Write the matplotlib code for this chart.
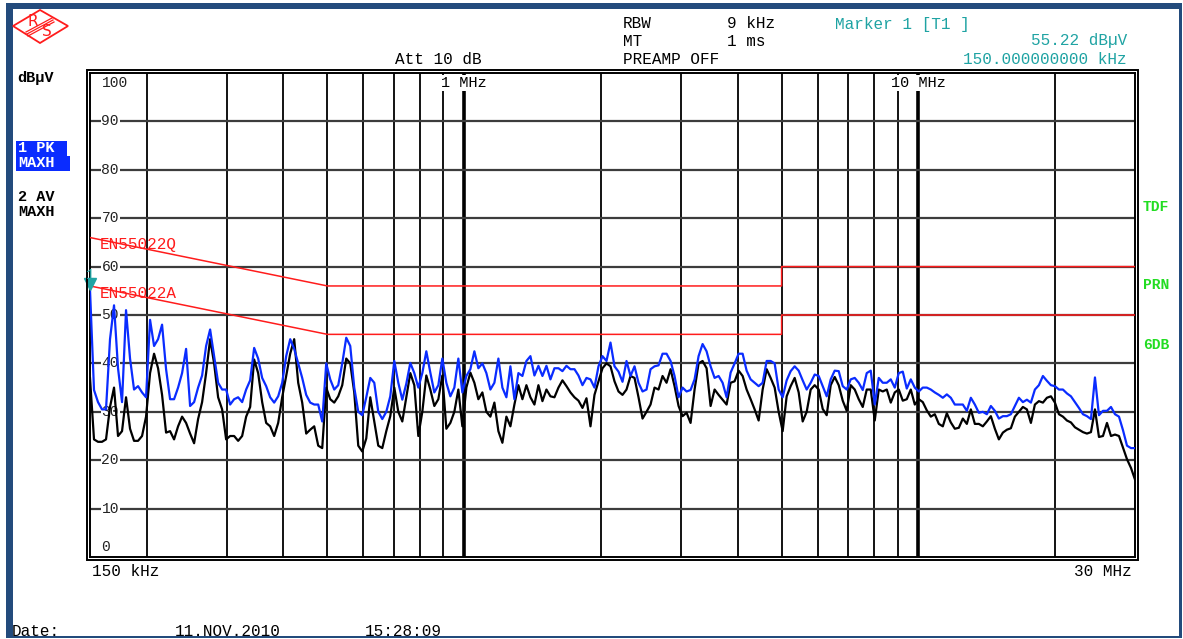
import numpy as np
import matplotlib
matplotlib.use("Agg")
import matplotlib.pyplot as plt
from matplotlib.patches import Rectangle, Polygon
from matplotlib.lines import Line2D
from matplotlib.ticker import NullLocator

plt.rcParams['font.family'] = ['Liberation Mono', 'DejaVu Sans Mono']

# sweep: 150 kHz .. 30 MHz, log spaced sweep points
f_start, f_stop, n_points = 0.15, 30.0, 262
freq = np.geomspace(f_start, f_stop, n_points)  # MHz

# trace 1: PK MAXH (dBuV)
pk_level = [
    55.2, 34.5, 32, 30.5, 30.5, 45, 52, 39, 32, 51,
    41, 34.6, 35.3, 34, 33, 49, 43.6, 45, 48, 38.8,
    32.6, 32.6, 35, 38, 43, 31.2, 32, 35, 37.5, 43.6,
    47, 41.5, 36, 34.6, 34.6, 31.5, 32.6, 33, 32, 34.6,
    36.5, 43.2, 41, 37, 35.3, 33, 31.9, 33.2, 36, 41.5,
    45, 43, 40, 37,
    33.5, 31.9, 31.5, 31.5, 28, 40, 36.7, 34.6, 35.5, 40,
    45.3, 43.6, 35, 30, 29.3, 33, 37, 36, 30, 28.5,
    30, 33.2, 40.5, 36, 32.5, 35.8, 40.1, 38, 35, 38,
    42.5, 38.1, 34, 35.5, 41, 36, 33.2, 35, 41, 34,
    37.4, 38.8, 42.5, 39, 40, 38, 34.6, 36, 41, 35,
    33, 39.4, 32.6, 38,
    37.4, 40.5, 41.5, 37.5, 39.5, 37.4, 39.5, 36.7, 39, 39,
    38.4, 39.5, 38.8, 38.8, 37.5, 35.5, 37, 36.7, 35, 39.4,
    41.5, 40.5, 44.3, 39.4, 38.3, 36.2, 40.5, 37.4, 39.4, 36,
    34.2, 34.6, 38.8, 39.4, 39.6, 42, 42, 40.5, 37.4, 33,
    35, 34.2, 34.5, 36.7, 41.5, 44, 42.5, 39.4, 37, 37.4,
    36, 33,
    38.1, 40, 42, 42, 38.5, 36.7, 36, 35.3, 36, 40.5,
    40.5, 40, 34.6, 33, 36.5, 38.4, 39.4, 38.5, 36.5, 34.6,
    36, 37.7, 37.4, 35.3, 33.2, 36.7, 38.5, 38.4, 35.3, 34.6,
    36.7, 37, 36, 34.5, 38, 38.5, 31.5, 37, 36, 36,
    36.7, 35, 38, 38.3, 34.8, 36.7, 35, 34.2, 35, 35,
    34.6, 34, 33.5,
    32.9, 33.6, 32.9, 31.5, 31.5, 31.5, 30.2, 32.9, 31.5, 29.8,
    30, 29.5, 31.2, 30.2, 28.6, 29.1, 29.1, 29.5, 31.2, 32.9,
    32, 32.5, 31.9, 34.6, 35.5, 37.4, 36.4, 35.5, 35.3, 34.6,
    34.6, 33.8, 33.2, 32, 30.8, 29.5, 29.1, 28.5, 37.1, 29.3,
    30.2, 30.2, 31, 29.5, 29, 26.2, 23, 22.5, 22.5,
]

# trace 2: AV MAXH (dBuV)
av_level = [
    37, 24.3, 23.8, 23.8, 24.3, 31, 35, 25, 26, 33,
    26.5, 24, 24, 25, 29, 38, 42, 39, 33.5, 25.7,
    26, 24.3, 27, 29, 27.7, 25.5, 23.5, 28.5, 32, 38,
    45, 40, 33, 30.5, 24.3, 25, 25, 24, 25, 29,
    31, 40.8, 38, 32, 27.7, 27, 25, 27.7, 33, 37.4,
    42, 45, 36, 31.9,
    25.5, 26.3, 27, 23, 22.5, 35, 32.6, 31.9, 33.2, 35.5,
    41, 40, 34, 23, 21.8, 24.5, 33, 28, 23, 22.5,
    26, 29.1, 35, 30, 28, 33, 38, 35.5, 25, 30,
    37.5, 34.6, 31.2, 32.6, 37.5, 26.5, 27.7, 30, 34.6, 27,
    35, 38.1, 36, 32.6, 34, 30, 29, 31.9, 26, 23.6,
    29, 27, 31.5, 35.5,
    32.6, 35.5, 33, 31.5, 35.5, 32.2, 34.6, 33.2, 33, 35,
    36.5, 35.3, 34, 33, 32.3, 30.8, 32.8, 27, 33.5, 36.3,
    39, 40, 39.4, 36.3, 34.2, 33.5, 34.6, 37.4, 37, 33,
    28.6, 30, 31.5, 35, 34.6, 37.4, 36, 38.8, 35.3, 31.2,
    29.1, 29.8, 27.7, 34.6, 40, 40.5, 39, 31.2, 34.6, 33.5,
    32.5, 31.5,
    36, 36.3, 38.5, 37.4, 34.6, 32.6, 30.5, 28.2, 34.6, 38.8,
    37, 35, 30, 26, 33.2, 35.3, 37, 34, 28, 30,
    34.6, 35.5, 34.6, 30.6, 29.3, 35.5, 37.2, 35.5, 32.3, 30.2,
    35.5, 34.6, 32.6, 31, 34.6, 34.6, 28.2, 34.6, 34.2, 34.6,
    31.9, 34, 34.6, 32.3, 32.6, 34.6, 31.5, 32.6, 32, 30.3,
    29, 29.5, 27.5,
    27, 29.7, 27.8, 26.5, 26.7, 28.6, 27.5, 30.5, 27.5, 27.5,
    27, 28, 29.1, 26.5, 24.3, 25.7, 26.3, 26.6, 29, 30,
    31, 30.5, 27.7, 31.5, 32.2, 31.9, 32.9, 33.2, 31.9, 29.5,
    29, 28.2, 27.8, 26.8, 26.3, 25.8, 25.5, 25.8, 30.5, 24.8,
    25, 27.7, 25, 25.3, 25, 22.6, 20.2, 18.4, 16,
]

# EN55022 class B limits
lim_f = [0.15, 0.5, 5.0, 5.0, 30.0]
lim_qp = [66, 56, 56, 60, 60]
lim_av = [56, 46, 46, 50, 50]

marker_f, marker_level = 0.15, 55.22

grid_f_minor = [0.2, 0.3, 0.4, 0.5, 0.6, 0.7, 0.8, 0.9,
                2, 3, 4, 5, 6, 7, 8, 9, 20]
grid_f_major = [1, 10]
grid_db = [10, 20, 30, 40, 50, 60, 70, 80, 90]

W, H = 1183, 639
BLUE = '#0a2cff'
RED = '#ff1c1c'
TEAL = '#1fa3a3'
GREEN = '#22dd22'
FRAME = '#234b7c'

fig = plt.figure(figsize=(W / 100, H / 100), dpi=100)
fig.patch.set_facecolor('white')


def fx(x):
    return x / W


def fy(y):
    return 1 - y / H


def ftext(x, y, s, **kw):
    kw.setdefault('va', 'center')
    kw.setdefault('fontsize', 11.5)
    fig.text(fx(x), fy(y), s, **kw)


def frect(x0, y0, x1, y1, **kw):
    fig.patches.append(Rectangle((fx(x0), fy(y1)), (x1 - x0) / W, (y1 - y0) / H,
                                 transform=fig.transFigure, **kw))


# blue screen frame
frect(6, 3, 13, 638, color=FRAME, lw=0)
frect(6, 3, 1182, 9, color=FRAME, lw=0)
frect(1179, 3, 1182, 638, color=FRAME, lw=0)
frect(6, 636, 1182, 638, color=FRAME, lw=0)

# R&S logo
fig.patches.append(Polygon([(fx(13), fy(26)), (fx(40), fy(10)), (fx(68), fy(26)), (fx(40), fy(43))],
                           closed=True, fill=False, ec=RED, lw=1.3, transform=fig.transFigure))
for d in (-2, 0, 2):
    fig.lines.append(Line2D([fx(27 + d * 0.5), fx(53 + d * 0.5)], [fy(34 + d), fy(20 + d)],
                            color=RED, lw=0.9, transform=fig.transFigure))
ftext(33, 21, 'R', color=RED, fontsize=11, ha='center', family='DejaVu Sans')
ftext(47, 32, 'S', color=RED, fontsize=11, ha='center', family='DejaVu Sans')

# plot area
ax = fig.add_axes([fx(90), fy(557), 1045 / W, 484 / H])
ax.set_xscale('log')
ax.set_xlim(f_start, f_stop)
ax.set_ylim(0, 100)
for a in (ax.xaxis, ax.yaxis):
    a.set_major_locator(NullLocator())
    a.set_minor_locator(NullLocator())
for s in ax.spines.values():
    s.set_linewidth(1.4)
frect(87, 70, 1138, 560, fill=False, ec='black', lw=1.4)

for f in grid_f_minor:
    ax.axvline(f, color='black', lw=1.3, zorder=1)
for f in grid_f_major:
    ax.axvline(f, color='black', lw=2.6, zorder=1)
for v in grid_db:
    ax.axhline(v, color='#3c3c3c', lw=1.6, zorder=1)

ytr = ax.get_yaxis_transform()
box = dict(fc='white', ec='none', pad=0.6)
for v in grid_db:
    ax.text(0.011, v, str(v), transform=ytr, va='center', ha='left',
            fontsize=10.5, color='#222222', bbox=box, zorder=2)
ax.text(0.011, 97.9, '100', transform=ytr, va='center', ha='left',
        fontsize=10.5, color='#222222', bbox=box, zorder=2)
ax.text(0.011, 2.1, '0', transform=ytr, va='center', ha='left',
        fontsize=10.5, color='#222222', bbox=box, zorder=2)

xtr = ax.get_xaxis_transform()
ax.text(1.0, 0.979, '1 MHz', transform=xtr, ha='center', va='center',
        fontsize=11, bbox=box, zorder=2)
ax.text(10.0, 0.979, '10 MHz', transform=xtr, ha='center', va='center',
        fontsize=11, bbox=box, zorder=2)

# limit lines
ax.plot(lim_f, lim_qp, color=RED, lw=1.1, zorder=3)
ax.plot(lim_f, lim_av, color=RED, lw=1.1, zorder=3)
ax.text(0.158, 64.6, 'EN55022Q', color=RED, fontsize=11.5, va='center', zorder=3)
ax.text(0.158, 54.4, 'EN55022A', color=RED, fontsize=11.5, va='center', zorder=3)

# traces
ax.plot(freq, av_level, color='black', lw=1.6, zorder=4)
ax.plot(freq, pk_level, color=BLUE, lw=1.6, zorder=5)

# marker 1
ax.plot([marker_f], [marker_level + 1.2], marker='v', ms=9, color=TEAL,
        clip_on=False, zorder=6)
ftext(90, 275, '1', color=TEAL, fontsize=10, ha='center')

# header
ftext(623, 24, 'RBW')
ftext(727, 24, '9 kHz')
ftext(623, 41, 'MT')
ftext(727, 41, '1 ms')
ftext(623, 59, 'PREAMP OFF')
ftext(395, 59, 'Att 10 dB')
ftext(835, 24, 'Marker 1 [T1 ]', color=TEAL)
ftext(1127, 41, '55.22 dBµV', color=TEAL, ha='right')
ftext(1127, 59, '150.000000000 kHz', color=TEAL, ha='right')

# left side panel
ftext(17, 78, 'dBµV', fontweight='bold', fontsize=11)
frect(16, 141, 67, 156, color=BLUE, lw=0)
frect(16, 156, 70, 171, color=BLUE, lw=0)
ftext(18, 148, '1 PK', color='white', fontweight='bold', fontsize=11)
ftext(18, 163, 'MAXH', color='white', fontweight='bold', fontsize=11)
ftext(18, 197, '2 AV', fontweight='bold', fontsize=11)
ftext(18, 212, 'MAXH', fontweight='bold', fontsize=11)

# right side flags
for y, s in ((207, 'TDF'), (285, 'PRN'), (345, '6DB')):
    ftext(1143, y, s, color=GREEN, fontweight='bold', fontsize=10.5)

# bottom
ftext(92, 571, '150 kHz')
ftext(1132, 571, '30 MHz', ha='right')
ftext(12, 631, 'Date:')
ftext(175, 631, '11.NOV.2010')
ftext(365, 631, '15:28:09')

fig.savefig('out.png', dpi=100)
